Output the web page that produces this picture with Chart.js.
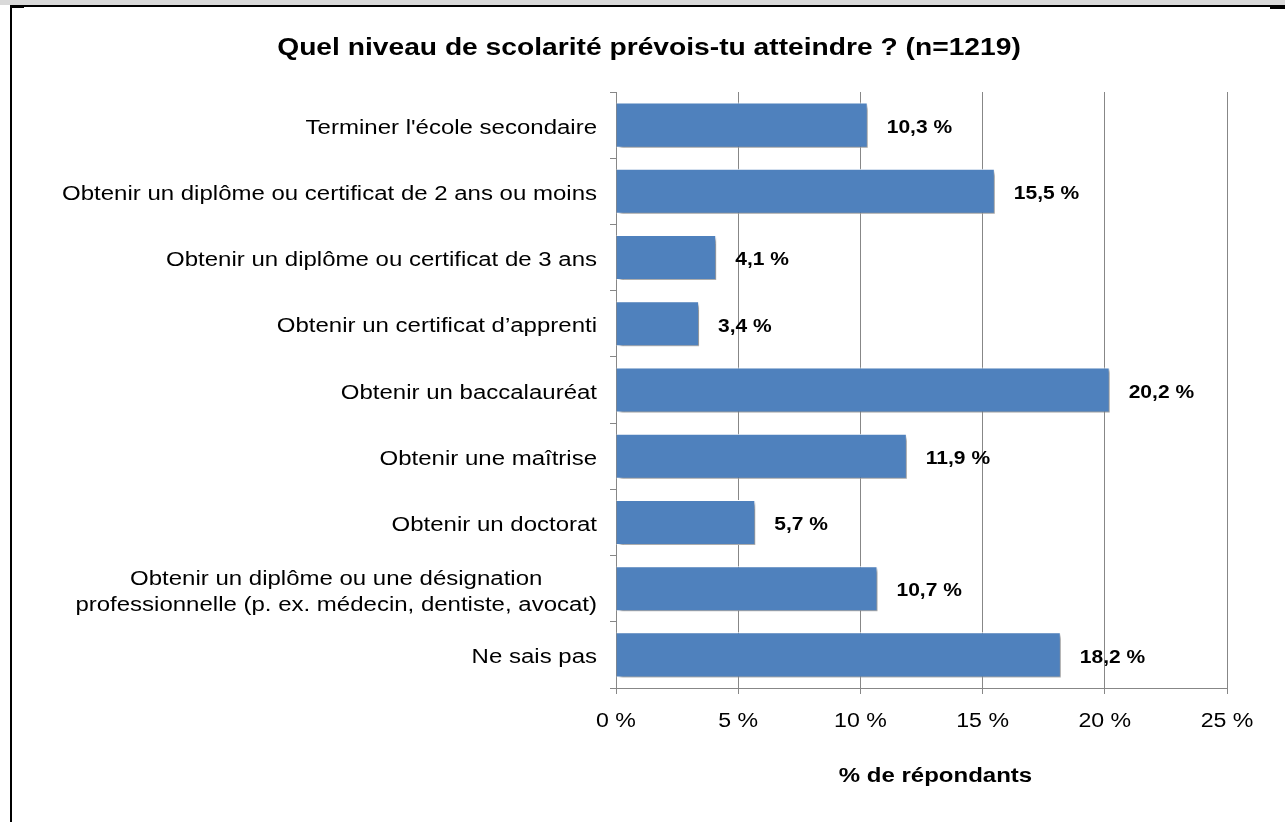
<!DOCTYPE html>
<html lang="fr">
<head>
<meta charset="utf-8">
<title>Niveau de scolarité prévu</title>
<script src="https://cdn.jsdelivr.net/npm/chart.js@4.4.1/dist/chart.umd.min.js"></script>
<style>
  html, body { margin: 0; padding: 0; background: #fff; }
  body { width: 1285px; height: 822px; position: relative; overflow: hidden; }
  .strip { position: absolute; left: 0; top: 0; width: 1285px; height: 5px; background: #d9d9d9; }
  .rule { position: absolute; left: 10px; top: 5px; width: 1275px; height: 2px; background: #000; }
  .side { position: absolute; left: 10px; top: 5px; width: 2px; height: 817px; background: #000; }
  .nub-l { position: absolute; left: 12px; top: 7px; width: 12px; height: 1px; background: #000; }
  .nub-r { position: absolute; left: 1270px; top: 7px; width: 15px; height: 2px; background: #000; }
  #wrap { position: absolute; left: 12px; top: 8px; width: 1273px; height: 814px; }
</style>
</head>
<body>
<div class="strip"></div>
<div class="rule"></div>
<div class="side"></div>
<div class="nub-l"></div>
<div class="nub-r"></div>
<div id="wrap"><canvas id="chart"></canvas></div>
<script>
const chartTitle = 'Quel niveau de scolarité prévois-tu atteindre ? (n=1219)';
const axisTitle = '% de répondants';
const categories = [
  "Terminer l'école secondaire",
  'Obtenir un diplôme ou certificat de 2 ans ou moins',
  'Obtenir un diplôme ou certificat de 3 ans',
  'Obtenir un certificat d\u2019apprenti',
  'Obtenir un baccalauréat',
  'Obtenir une maîtrise',
  'Obtenir un doctorat',
  ['Obtenir un diplôme ou une désignation', 'professionnelle (p. ex. médecin, dentiste, avocat)'],
  'Ne sais pas'
];
const shares = [10.3, 15.5, 4.1, 3.4, 20.2, 11.9, 5.7, 10.7, 18.2];

const FONT = '"Liberation Sans", Arial, Helvetica, sans-serif';
const SX = 1.2; // text is drawn slightly wide
const GRID = '#878787';

function fmt(v) {
  return v.toFixed(1).replace('.', ',') + ' %';
}

function wideText(ctx, text, x, y, align) {
  ctx.save();
  ctx.translate(x, y);
  ctx.scale(SX, 1);
  ctx.textAlign = align;
  ctx.textBaseline = 'middle';
  ctx.fillText(text, 0, 0);
  ctx.restore();
}

// soft drop shadow under the bars
const barShadow = {
  id: 'barShadow',
  beforeDatasetsDraw(chart) {
    const ctx = chart.ctx;
    ctx.save();
    ctx.shadowColor = 'rgba(0,0,0,0.4)';
    ctx.shadowOffsetX = 3;
    ctx.shadowOffsetY = 3;
    ctx.shadowBlur = 3;
  },
  afterDatasetsDraw(chart) {
    chart.ctx.restore();
  }
};

// all the text: title, category labels, values, x tick labels, axis title
const textLayer = {
  id: 'textLayer',
  afterDraw(chart) {
    const ctx = chart.ctx;
    const area = chart.chartArea;
    const x = chart.scales.x;
    const y = chart.scales.y;
    ctx.save();
    ctx.fillStyle = '#000';

    ctx.font = 'bold 23.5px ' + FONT;
    wideText(ctx, chartTitle, 637, 41, 'center');

    ctx.font = '20px ' + FONT;
    const right = y.right - 19;
    categories.forEach((c, i) => {
      const cy = y.getPixelForValue(i) + 3;
      if (Array.isArray(c)) {
        const w = Math.max(...c.map(s => ctx.measureText(s).width)) * SX;
        const lh = 26;
        c.forEach((s, k) => {
          wideText(ctx, s, right - w / 2, cy + 1 + (k - (c.length - 1) / 2) * lh, 'center');
        });
      } else {
        wideText(ctx, c, right, cy, 'right');
      }
    });

    ctx.font = 'bold 17.5px ' + FONT;
    const meta = chart.getDatasetMeta(0);
    meta.data.forEach((bar, i) => {
      wideText(ctx, fmt(shares[i]), bar.x + 19, bar.y + 3, 'left');
    });

    ctx.font = '19.3px ' + FONT;
    x.ticks.forEach(t => {
      wideText(ctx, t.value + ' %', x.getPixelForValue(t.value), area.bottom + 34, 'center');
    });

    ctx.font = 'bold 20px ' + FONT;
    wideText(ctx, axisTitle, (area.left + area.right) / 2 + 14, area.bottom + 88, 'center');
    ctx.restore();
  }
};

new Chart(document.getElementById('chart'), {
  type: 'bar',
  data: {
    labels: categories,
    datasets: [{
      data: shares,
      backgroundColor: '#4f81bd',
      borderColor: '#ffffff',
      borderWidth: 1,
      barPercentage: 0.68,
      categoryPercentage: 1
    }]
  },
  options: {
    indexAxis: 'y',
    responsive: true,
    maintainAspectRatio: false,
    animation: false,
    layout: { padding: { top: 84, right: 58, bottom: 0, left: 0 } },
    plugins: {
      legend: { display: false },
      title: { display: false },
      tooltip: { enabled: false }
    },
    scales: {
      x: {
        min: 0,
        max: 25,
        ticks: { display: false, stepSize: 5 },
        grid: { color: GRID, lineWidth: 1, drawTicks: true, tickLength: 6 },
        border: { color: GRID, width: 1 },
        afterFit(scale) { scale.height = 134; }
      },
      y: {
        ticks: { display: false },
        grid: { drawOnChartArea: false, drawTicks: true, tickLength: 6, color: GRID, offset: true },
        border: { color: GRID, width: 1 },
        afterFit(scale) { scale.width = 604; }
      }
    }
  },
  plugins: [barShadow, textLayer]
});
</script>
</body>
</html>
